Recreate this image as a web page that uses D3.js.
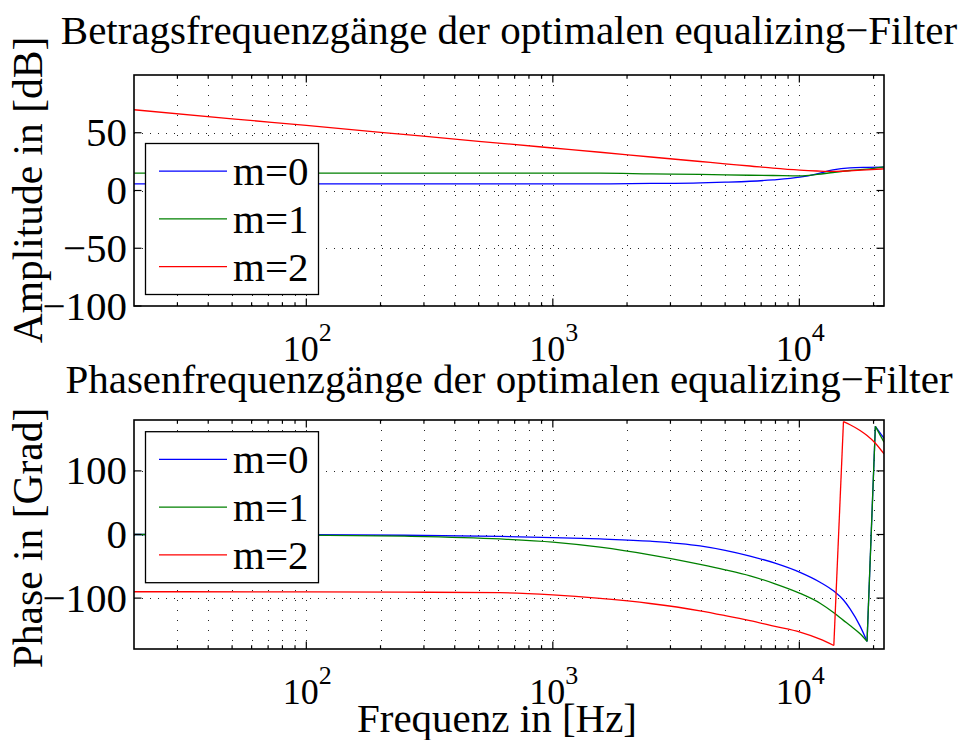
<!DOCTYPE html>
<html><head><meta charset="utf-8">
<script src="https://cdn.jsdelivr.net/npm/d3@7"></script>
<style>
body{margin:0;background:#fff}
svg{display:block}
text{font-family:"Liberation Serif","Times New Roman",serif;fill:#000}
</style></head>
<body><svg id="chart" width="967" height="740"></svg>
<script>
// ---------- data ----------
const seriesNames = ["m=0", "m=1", "m=2"];

const ampFreq = [20, 50, 100, 200, 500, 1000, 1556, 2500, 3963, 5000, 6310, 7820, 10040, 11800, 13690, 16030, 18790, 22050];
const ampM0 = [5.8, 5.8, 5.8, 5.8, 5.8, 5.8, 5.8, 6.1, 6.6, 7.2, 8.0, 9.2, 11.5, 14.4, 17.9, 19.6, 20.0, 20.2];
const ampM1 = [15.0, 15.0, 15.0, 15.0, 15.0, 15.0, 15.0, 14.4, 13.9, 13.5, 13.2, 13.0, 12.7, 13.9, 15.6, 17.3, 18.5, 20.5];
const ampM2 = [69.9, 62.1, 56.3, 50.4, 42.6, 36.8, 33.1, 29.0, 25.1, 23.1, 21.2, 19.3, 17.6, 16.9, 16.5, 17.0, 17.8, 18.8];

const phaseFreq = [20, 100, 250, 611, 1000, 1554, 2480, 3956, 5000, 6310, 7968, 10065, 12134, 13800, 15100, 16060, 17635, 18820, 20340, 22060];
const phaseM0 = [0, -0.4, -1.2, -3, -4.8, -7, -10.5, -18, -25, -34, -45, -59.5, -75, -89, -103, -117, -144, -168, 170, 151];
const phaseM1 = [0, -1.1, -2.7, -7, -12, -20, -32, -47, -55.5, -65, -77.5, -92.5, -108, -123, -135, -143, -156, -168, 170, 145];
const phaseM2 = [-90, -90.1, -90.6, -91.5, -95, -100.5, -108.5, -120, -127.5, -135.5, -144.5, -153.5, -164.5, -174.5, 177.5, 172.5, 163.5, 155.5, 143.5, 126.6];

const xTickExponents = [2, 3, 4];
const ampTicks = [-100, -50, 0, 50];
const phaseTicks = [-100, 0, 100];

const titles = ["Betragsfrequenzgänge der optimalen equalizing\u2212Filter",
                "Phasenfrequenzgänge der optimalen equalizing\u2212Filter"];
const yLabels = ["Amplitude in [dB]", "Phase in [Grad]"];
const xLabel = "Frequenz in [Hz]";

// ---------- styles ----------
const colors = ["#0000ff", "#008000", "#ff0000"];
const FONT = 41;

const svg = d3.select("#chart");
const L = 134, R = 884;
const x = d3.scaleLog().domain([20, 22050]).range([L, R]);

const minorTicks = [];
for (let d = 1; d <= 4; d++) for (let k = 2; k <= 9; k++) {
  const v = k * Math.pow(10, d);
  if (v > 20 && v < 22050) minorTicks.push(v);
}
const majorTicks = xTickExponents.map(e => Math.pow(10, e));

function fmt(v) { return v < 0 ? "\u2212" + Math.abs(v) : String(v); }

// split a series where the phase wraps, so each continuous piece can be smoothed
function pieces(freq, vals) {
  const segs = [[]];
  for (let j = 0; j < freq.length; j++) {
    if (j > 0 && Math.abs(vals[j] - vals[j - 1]) > 180) segs.push([]);
    segs[segs.length - 1].push([freq[j], vals[j]]);
  }
  return segs;
}

function panel(opt) {
  const y = d3.scaleLinear().domain(opt.domain).range([opt.bottom, opt.top]);
  const g = svg.append("g");
  const id = "clip" + opt.idx;
  svg.append("clipPath").attr("id", id).append("rect")
    .attr("x", L).attr("y", opt.top).attr("width", R - L).attr("height", opt.bottom - opt.top);

  // grid
  const grid = g.append("g").attr("stroke", "#000").attr("stroke-width", 1)
    .attr("stroke-dasharray", "1,9").attr("opacity", 0.85);
  minorTicks.concat(majorTicks).forEach(v => {
    grid.append("line").attr("x1", Math.round(x(v)) + 0.5).attr("x2", Math.round(x(v)) + 0.5)
      .attr("y1", opt.top).attr("y2", opt.bottom);
  });
  opt.ticks.forEach(v => {
    if (v === opt.domain[0]) return;
    grid.append("line").attr("y1", Math.round(y(v)) + 0.5).attr("y2", Math.round(y(v)) + 0.5)
      .attr("x1", L).attr("x2", R).attr("stroke-dasharray", "1,7");
  });

  // lines
  const smooth = d3.line().x(d => x(d[0])).y(d => y(d[1])).curve(d3.curveMonotoneX);
  const straight = d3.line().x(d => x(d[0])).y(d => y(d[1]));
  const lg = g.append("g").attr("clip-path", `url(#${id})`);
  opt.series.forEach((s, i) => {
    const segs = pieces(opt.freq, s);
    segs.forEach((seg, k) => {
      lg.append("path").datum(seg).attr("d", smooth).attr("fill", "none")
        .attr("stroke", colors[i]).attr("stroke-width", 1.3);
      if (k > 0) {
        const prev = segs[k - 1];
        lg.append("path").datum([prev[prev.length - 1], seg[0]]).attr("d", straight)
          .attr("fill", "none").attr("stroke", colors[i]).attr("stroke-width", 1.3);
      }
    });
  });

  // ticks
  const tk = g.append("g").attr("stroke", "#000").attr("stroke-width", 1.2);
  majorTicks.forEach(v => {
    const px = x(v);
    tk.append("line").attr("x1", px).attr("x2", px).attr("y1", opt.bottom).attr("y2", opt.bottom - 7.5);
    tk.append("line").attr("x1", px).attr("x2", px).attr("y1", opt.top).attr("y2", opt.top + 7.5);
  });
  minorTicks.forEach(v => {
    const px = x(v);
    tk.append("line").attr("x1", px).attr("x2", px).attr("y1", opt.bottom).attr("y2", opt.bottom - 3.8);
    tk.append("line").attr("x1", px).attr("x2", px).attr("y1", opt.top).attr("y2", opt.top + 3.8);
  });
  opt.ticks.forEach(v => {
    const py = y(v);
    tk.append("line").attr("x1", L).attr("x2", L + 7.5).attr("y1", py).attr("y2", py);
    tk.append("line").attr("x1", R).attr("x2", R - 7.5).attr("y1", py).attr("y2", py);
  });

  // box
  g.append("rect").attr("x", L).attr("y", opt.top).attr("width", R - L).attr("height", opt.bottom - opt.top)
    .attr("fill", "none").attr("stroke", "#000").attr("stroke-width", 1.6);

  // y tick labels
  opt.ticks.forEach(v => {
    g.append("text").attr("x", 127).attr("y", y(v) + 13.5).attr("text-anchor", "end")
      .attr("font-size", FONT).text(fmt(v));
  });
  // x tick labels
  xTickExponents.forEach(e => {
    const t = g.append("text").attr("x", x(Math.pow(10, e)) + 1).attr("y", opt.bottom + 55)
      .attr("text-anchor", "middle").attr("font-size", 36).text("10");
    t.append("tspan").attr("dy", -20).attr("font-size", 26).text(String(e));
  });

  // title
  g.append("text").attr("x", 509).attr("y", opt.titleY).attr("text-anchor", "middle")
    .attr("font-size", FONT).text(opt.title);
  // y label
  g.append("text").attr("transform", `translate(42,${opt.ylabelY}) rotate(-90)`)
    .attr("text-anchor", "middle").attr("font-size", 41.5).text(opt.ylabel);

  // legend
  const lx = 145.5, lw = 173, lh = 151;
  const leg = g.append("g");
  leg.append("rect").attr("x", lx).attr("y", opt.legendTop).attr("width", lw).attr("height", lh)
    .attr("fill", "#fff").attr("stroke", "#000").attr("stroke-width", 1.3);
  seriesNames.forEach((n, i) => {
    const ry = opt.legendTop + 27.7 + i * 47.7;
    leg.append("line").attr("x1", 159).attr("x2", 227).attr("y1", ry).attr("y2", ry)
      .attr("stroke", colors[i]).attr("stroke-width", 1.3);
    leg.append("text").attr("x", 233).attr("y", ry + 14).attr("font-size", 41).text(n);
  });
}

panel({idx: 0, top: 75, bottom: 306, domain: [-100, 100], ticks: ampTicks,
  freq: ampFreq, series: [ampM0, ampM1, ampM2],
  title: titles[0], titleY: 44, ylabel: yLabels[0], ylabelY: 190, legendTop: 143.5});
panel({idx: 1, top: 420, bottom: 649, domain: [-180, 180], ticks: phaseTicks,
  freq: phaseFreq, series: [phaseM0, phaseM1, phaseM2],
  title: titles[1], titleY: 393, ylabel: yLabels[1], ylabelY: 538, legendTop: 431.7});

svg.append("text").attr("x", 497).attr("y", 732).attr("text-anchor", "middle")
  .attr("font-size", FONT).text(xLabel);
</script>
</body></html>
